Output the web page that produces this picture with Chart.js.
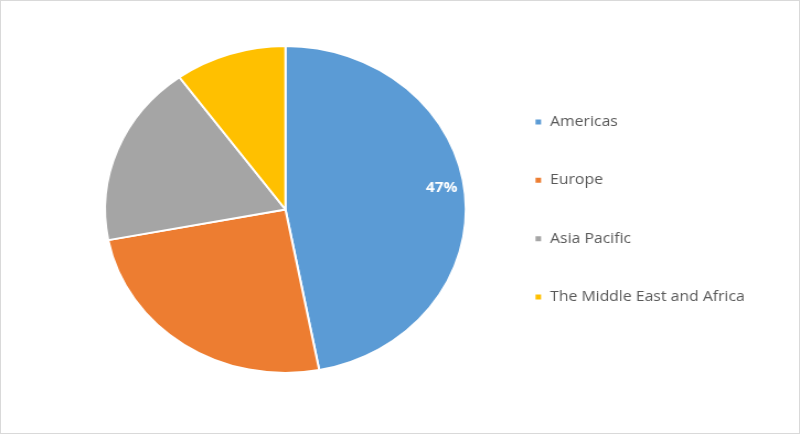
<!DOCTYPE html>
<html>
<head>
<meta charset="utf-8">
<script src="https://cdn.jsdelivr.net/npm/chart.js@4.4.0/dist/chart.umd.min.js"></script>
<style>
  html, body { margin: 0; padding: 0; background: #fff; }
  #frame { position: absolute; left: 0; top: 0; width: 798px; height: 432px; border: 1px solid #d9d9d9; overflow: hidden; }
  #wrap { position: absolute; left: -1px; top: -1px; width: 725px; height: 434px; transform: scaleX(1.1034); transform-origin: 0 0; }
</style>
</head>
<body>
<div id="frame">
  <div id="wrap"><canvas id="chart"></canvas></div>
</div>
<script>
const regions = ["Americas", "Europe", "Asia Pacific", "The Middle East and Africa"];
const shares = [47, 25, 18, 10];
const colours = ["#5B9BD5", "#ED7D31", "#A5A5A5", "#FFC000"];
const shownLabels = ["47%", "", "", ""];

// white percentage label, only on the slices that have one
const sliceLabels = {
    id: "sliceLabels",
    afterDatasetsDraw(chart) {
        const ctx = chart.ctx;
        const meta = chart.getDatasetMeta(0);
        meta.data.forEach((arc, i) => {
            if (!shownLabels[i]) return;
            const p = arc.getProps(["x", "y", "startAngle", "endAngle", "outerRadius"], true);
            const mid = (p.startAngle + p.endAngle) / 2;
            const r = p.outerRadius * 0.87;
            ctx.save();
            ctx.fillStyle = "#ffffff";
            ctx.font = "bold 14px 'Open Sans', sans-serif";
            ctx.textAlign = "center";
            ctx.textBaseline = "middle";
            ctx.fillText(shownLabels[i], p.x + Math.cos(mid) * r, p.y + Math.sin(mid) * r - 8);
            ctx.restore();
        });
    }
};

new Chart(document.getElementById("chart").getContext("2d"), {
    type: "pie",
    data: {
        labels: regions,
        datasets: [{
            data: shares,
            backgroundColor: colours,
            borderColor: "#ffffff",
            borderWidth: 2
        }]
    },
    options: {
        responsive: true,
        maintainAspectRatio: false,
        animation: false,
        layout: { padding: { left: 77, top: 45, bottom: 60, right: 40 } },
        plugins: {
            tooltip: { enabled: false },
            legend: {
                position: "right",
                labels: {
                    boxWidth: 7,
                    boxHeight: 7,
                    padding: 44,
                    color: "#595959",
                    font: { family: "'Open Sans', sans-serif", size: 14.3 }
                }
            }
        }
    },
    plugins: [sliceLabels]
});
</script>
</body>
</html>
